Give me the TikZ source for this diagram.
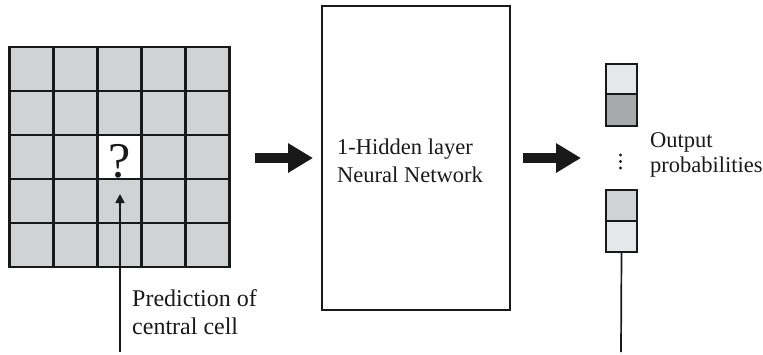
\documentclass[tikz,border=0pt]{standalone}
\usepackage{fontspec}
\setmainfont{Liberation Serif}
\usetikzlibrary{arrows.meta}
\definecolor{cellgray}{HTML}{D1D2D4}
\definecolor{lightgray}{HTML}{E6E7E8}
\definecolor{darkgray}{HTML}{A7A9AC}
\tikzset{
  cell/.style={draw=black!90, line width=2.4pt, fill=cellgray, minimum size=44pt, inner sep=0pt, outer sep=0pt},
  probbox/.style={draw=black!90, line width=2pt, minimum width=31pt, minimum height=31pt, inner sep=0pt, outer sep=0pt},
  lbl/.style={font=\fontsize{22.5}{27}\selectfont, inner sep=0pt, anchor=base west, text=black!90},
  bigarrow/.style={line width=10pt, black!90, -{Triangle[length=25pt,width=28pt]}},
  thin/.style={line width=1.7pt, black!90},
}
\begin{document}
\begin{tikzpicture}[x=1pt,y=-1pt]
\useasboundingbox (0,0) rectangle (763,354);
% grid
\foreach \i in {0,...,4}{
  \foreach \j in {0,...,4}{
    \node[cell] (c\i\j) at (31.5+\i*44, 69+\j*44) {};
  }
}
\node[cell, fill=white] (q) at (31.5+2*44, 69+2*44) {};
\node[inner sep=0pt, anchor=base, font=\fontsize{50}{50}\selectfont, text=black!90] (qm) at (120,177) {?};
% network box
\node[draw=black!90, line width=1.8pt, minimum width=188pt, minimum height=304pt, inner sep=0pt] (nn) at (416,158) {};
\node[lbl] (nn1) at (337,154) {1-Hidden layer};
\node[lbl] (nn2) at (337,182) {Neural Network};
% big arrows
\coordinate (a1s) at (255,158);
\coordinate (a2s) at (523,158);
\draw[bigarrow] (a1s) -- (nn.west -| 313,0);
\draw[bigarrow] (a2s) -- (581,158);
% output boxes
\node[probbox, fill=lightgray, minimum height=30pt] (o1) at (621.5,79) {};
\node[probbox, fill=darkgray, minimum height=32pt] (o2) at (621.5,110) {};
\node[probbox, fill=cellgray, minimum height=31pt] (o3) at (621.5,205.5) {};
\node[probbox, fill=lightgray, minimum height=31pt] (o4) at (621.5,236.5) {};
\foreach \y in {155,161.5,168}{\fill[black!90] (620.5,\y) circle (1.6pt);}
\node[lbl] (out1) at (650,147) {Output};
\node[lbl] (out2) at (650,172) {probabilities};
% prediction label
\node[lbl, font=\fontsize{24}{28}\selectfont] (p1) at (132,306) {Prediction of};
\node[lbl, font=\fontsize{24}{28}\selectfont] (p2) at (132,334) {central cell};
% thin arrows
\coordinate (pb) at (120,352);
\coordinate (pt) at (120,194);
\draw[thin, -{Triangle[length=9pt,width=9pt]}] (pb) -- (pt);
\coordinate (ob) at (621,352);
\draw[thin] (o4.south) -- (ob);
\end{tikzpicture}
\end{document}
